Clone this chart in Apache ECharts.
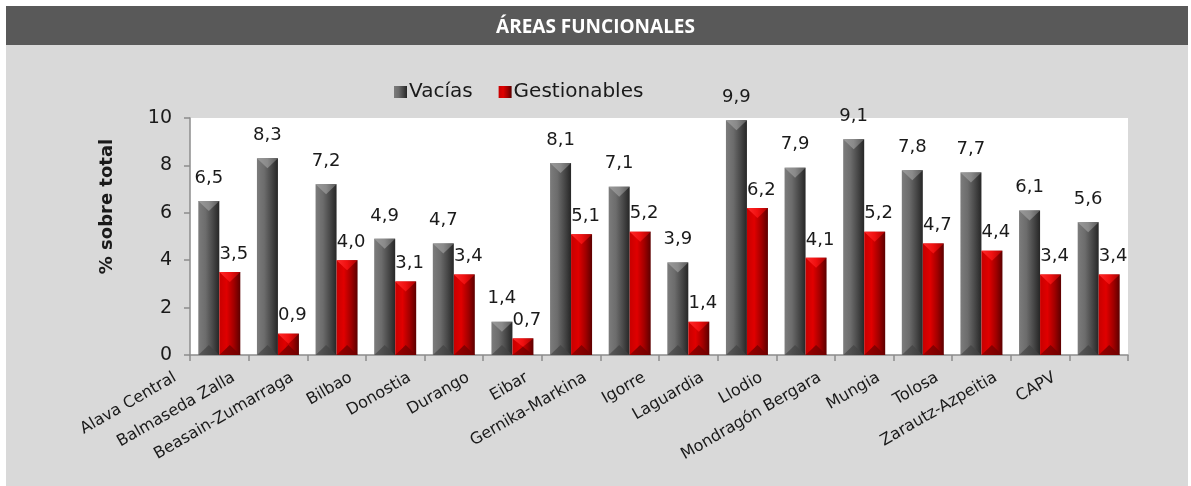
<!DOCTYPE html>
<html>
<head>
<meta charset="utf-8">
<title>Áreas funcionales</title>
<script src="https://cdn.jsdelivr.net/npm/echarts@6/dist/echarts.min.js"></script>
<style>
  html, body { margin: 0; padding: 0; background: #ffffff; }
  #chart { width: 1191px; height: 486px; }
</style>
</head>
<body>
<div id="chart"></div>
<script>
// Áreas funcionales: viviendas vacías y gestionables (% sobre total)
const categories = [
  'Alava Central', 'Balmaseda Zalla', 'Beasain-Zumarraga', 'Bilbao', 'Donostia',
  'Durango', 'Eibar', 'Gernika-Markina', 'Igorre', 'Laguardia', 'Llodio',
  'Mondragón Bergara', 'Mungia', 'Tolosa', 'Zarautz-Azpeitia', 'CAPV'
];
const vacias = [6.5, 8.3, 7.2, 4.9, 4.7, 1.4, 8.1, 7.1, 3.9, 9.9, 7.9, 9.1, 7.8, 7.7, 6.1, 5.6];
const gestionables = [3.5, 0.9, 4.0, 3.1, 3.4, 0.7, 5.1, 5.2, 1.4, 6.2, 4.1, 5.2, 4.7, 4.4, 3.4, 3.4];
const yTicks = { min: 0, max: 10, interval: 2 };

const FONT = '"DejaVu Sans", "Noto Sans", sans-serif';
const TEXT = '#1a1a1a';
const AXIS = '#8c8c8c';

const fmt = v => v.toFixed(1).replace('.', ',');

function hGrad(stops) {
  return {
    type: 'linear', x: 0, y: 0, x2: 1, y2: 0,
    colorStops: stops.map(([offset, color]) => ({ offset, color }))
  };
}

const grayBody = hGrad([[0, '#7c7c7c'], [0.35, '#6c6c6c'], [0.7, '#474747'], [1, '#262626']]);
const redBody = hGrad([[0, '#c80000'], [0.35, '#e00000'], [0.7, '#a00000'], [1, '#5c0000']]);
const grayTop = hGrad([[0, '#9a9a9a'], [0.5, '#8a8a8a'], [1, '#5a5a5a']]);
const redTop = hGrad([[0, '#ff2a2a'], [0.5, '#f01010'], [1, '#a80000']]);
const grayBase = hGrad([[0, '#5a5a5a'], [1, '#3a3a3a']]);
const redBase = hGrad([[0, '#9a0000'], [1, '#700000']]);

const BAR_W = 21;
const CAP_H = 10;

function bodySeries(name, data, color, labelDist, labelShift) {
  return {
    name, type: 'bar', data,
    barWidth: BAR_W, barGap: '0%',
    itemStyle: { color },
    label: {
      show: true, position: 'top', distance: labelDist, offset: [labelShift, 0],
      formatter: p => fmt(p.value),
      fontFamily: FONT, fontSize: 18, color: TEXT
    },
    emphasis: { disabled: true },
    z: 2
  };
}

// Bevelled caps (pyramid tip at the top, darker wedge at the base) drawn on each bar.
// side = -1 for the left bar of the pair, +1 for the right one.
function capSeries(values, side, topFill, baseFill) {
  return {
    type: 'custom',
    silent: true,
    z: 3,
    data: values.map((v, i) => [i, v]),
    renderItem(params, api) {
      const i = api.value(0);
      const v = api.value(1);
      const top = api.coord([i, v]);
      const base = api.coord([i, 0]);
      const cx = base[0] + side * BAR_W / 2;
      const l = cx - BAR_W / 2, r = cx + BAR_W / 2;
      const h = Math.min(CAP_H, (base[1] - top[1]) / 2);
      return {
        type: 'group',
        children: [
          {
            type: 'polygon',
            shape: { points: [[l, top[1]], [r, top[1]], [cx, top[1] + h]] },
            style: { fill: topFill }
          },
          {
            type: 'polygon',
            shape: { points: [[l, base[1]], [r, base[1]], [cx, base[1] - h]] },
            style: { fill: baseFill }
          }
        ]
      };
    }
  };
}

const chart = echarts.init(document.getElementById('chart'), null, { renderer: 'canvas' });

chart.setOption({
  animation: false,
  backgroundColor: '#ffffff',
  graphic: [
    { type: 'rect', z: -10, shape: { x: 6, y: 6, width: 1182, height: 480 }, style: { fill: '#d9d9d9' } },
    { type: 'rect', z: -9, shape: { x: 6, y: 6, width: 1182, height: 39 }, style: { fill: '#595959' } }
  ],
  title: {
    text: 'ÁREAS FUNCIONALES',
    left: 'center', top: 13,
    textStyle: { fontFamily: '"Open Sans", sans-serif', fontWeight: 'bold', fontSize: 19, color: '#ffffff' }
  },
  legend: {
    data: ['Vacías', 'Gestionables'],
    left: 389, top: 77,
    icon: 'rect', itemWidth: 13, itemHeight: 12, itemGap: 26,
    textStyle: { fontFamily: FONT, fontSize: 20, color: TEXT, padding: [0, 0, 0, -3] }
  },
  grid: {
    left: 190, right: 63, top: 118, bottom: 131,
    show: true, backgroundColor: '#ffffff', borderWidth: 0,
    outerBoundsMode: 'none'
  },
  xAxis: {
    type: 'category', data: categories,
    axisLine: { lineStyle: { color: AXIS, width: 1.5 } },
    axisTick: { show: true, length: 6, lineStyle: { color: AXIS, width: 1.5 } },
    axisLabel: {
      interval: 0, rotate: 30, margin: -4,
      padding: [0, 51, 0, 0],
      fontFamily: FONT, fontSize: 16, color: TEXT
    }
  },
  yAxis: {
    type: 'value', min: yTicks.min, max: yTicks.max, interval: yTicks.interval,
    name: '% sobre total', nameLocation: 'middle', nameGap: 74, nameRotate: 90,
    nameTextStyle: { fontFamily: FONT, fontWeight: 'bold', fontSize: 18, color: TEXT, padding: [0, 0, 0, 60] },
    axisLine: { show: true, lineStyle: { color: AXIS, width: 1.5 } },
    axisTick: { show: true, length: 6, lineStyle: { color: AXIS, width: 1.5 } },
    splitLine: { show: false },
    axisLabel: { margin: 18, fontFamily: FONT, fontSize: 19, color: TEXT }
  },
  series: [
    bodySeries('Vacías', vacias, grayBody, 14, 0),
    bodySeries('Gestionables', gestionables, redBody, 9, 4),
    capSeries(vacias, -1, grayTop, grayBase),
    capSeries(gestionables, 1, redTop, redBase)
  ]
});
</script>
</body>
</html>
